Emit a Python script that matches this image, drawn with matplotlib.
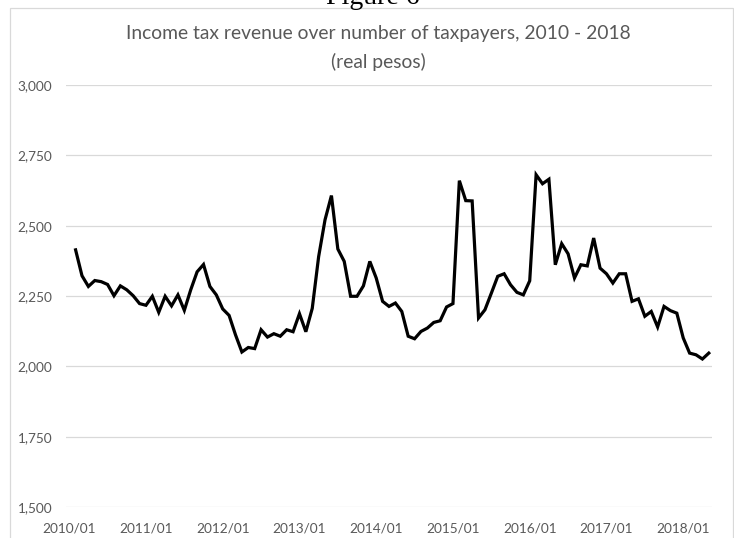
import matplotlib.pyplot as plt
import matplotlib.patches as patches
import numpy as np

# monthly series, 2010/02 - 2018/05 (first category slot 2010/01 is empty)
revenue = [
    2414, 2322, 2284, 2305, 2301, 2291, 2251, 2286, 2272, 2251, 2223, 2217,
    2249, 2192, 2249, 2215, 2254, 2199, 2272, 2336, 2362, 2284, 2254, 2204,
    2181, 2112, 2051, 2067, 2063, 2130, 2104, 2116, 2107, 2130, 2123, 2187,
    2123, 2206, 2390, 2521, 2607, 2417, 2373, 2249, 2249, 2286, 2373, 2314,
    2231, 2213, 2225, 2195, 2107, 2098, 2124, 2136, 2156, 2162, 2211, 2223,
    2660, 2589, 2588, 2172, 2201, 2260, 2320, 2329, 2290, 2263, 2254, 2304,
    2681, 2649, 2665, 2361, 2436, 2400, 2314, 2361, 2357, 2456, 2349, 2329,
    2296, 2329, 2329, 2231, 2240, 2178, 2195, 2140, 2213, 2198, 2189, 2101,
    2047, 2041, 2026, 2047,
]
year_labels = ['2010/01', '2011/01', '2012/01', '2013/01', '2014/01',
               '2015/01', '2016/01', '2017/01', '2018/01']
y_ticks = [1500, 1750, 2000, 2250, 2500, 2750, 3000]

W, H = 734, 538
fig = plt.figure(figsize=(W / 100, H / 100), dpi=100)
fig.patch.set_facecolor('white')

# chart frame (bottom edge runs off the page)
frame = patches.Rectangle((10 / W, -0.1), (733 - 10) / W, (H - 8) / H + 0.1,
                          transform=fig.transFigure, fill=False,
                          edgecolor='#d9d9d9', linewidth=0.9)
fig.patches.append(frame)

fig.text(373 / W, 1 - 4 / H, 'Figure 6', family='Liberation Serif',
         fontsize=20, color='black', ha='center', va='baseline')

grey = '#595959'
fig.text(378 / W, 1 - 33 / H, 'Income tax revenue over number of taxpayers, 2010 - 2018',
         family='Lato', fontsize=13.9, color=grey, ha='center', va='center')
fig.text(378 / W, 1 - 62 / H, '(real pesos)',
         family='Lato', fontsize=13.9, color=grey, ha='center', va='center')

ax = fig.add_axes([66 / W, (H - 507) / H, (712 - 66) / W, (507 - 85) / H])
x = np.arange(1, len(revenue) + 1)
ax.plot(x, revenue, color='black', linewidth=2.3, solid_joinstyle='miter',
        zorder=3)

ax.set_xlim(-0.5, len(revenue) + 0.5)
ax.set_ylim(1500, 3000)
ax.set_yticks(y_ticks)
ax.set_yticklabels([f'{v:,}' for v in y_ticks])
ax.set_xticks(np.arange(0, 12 * len(year_labels), 12))
ax.set_xticklabels(year_labels)

ax.grid(axis='y', color='#d9d9d9', linewidth=0.9)
ax.set_axisbelow(True)
for s in ax.spines.values():
    s.set_visible(False)
ax.tick_params(length=0, colors=grey, labelsize=9.8)
ax.tick_params(axis='y', pad=10)
ax.tick_params(axis='x', pad=11)
for lbl in ax.get_xticklabels() + ax.get_yticklabels():
    lbl.set_family('Lato')

fig.savefig('out.png', dpi=100)
